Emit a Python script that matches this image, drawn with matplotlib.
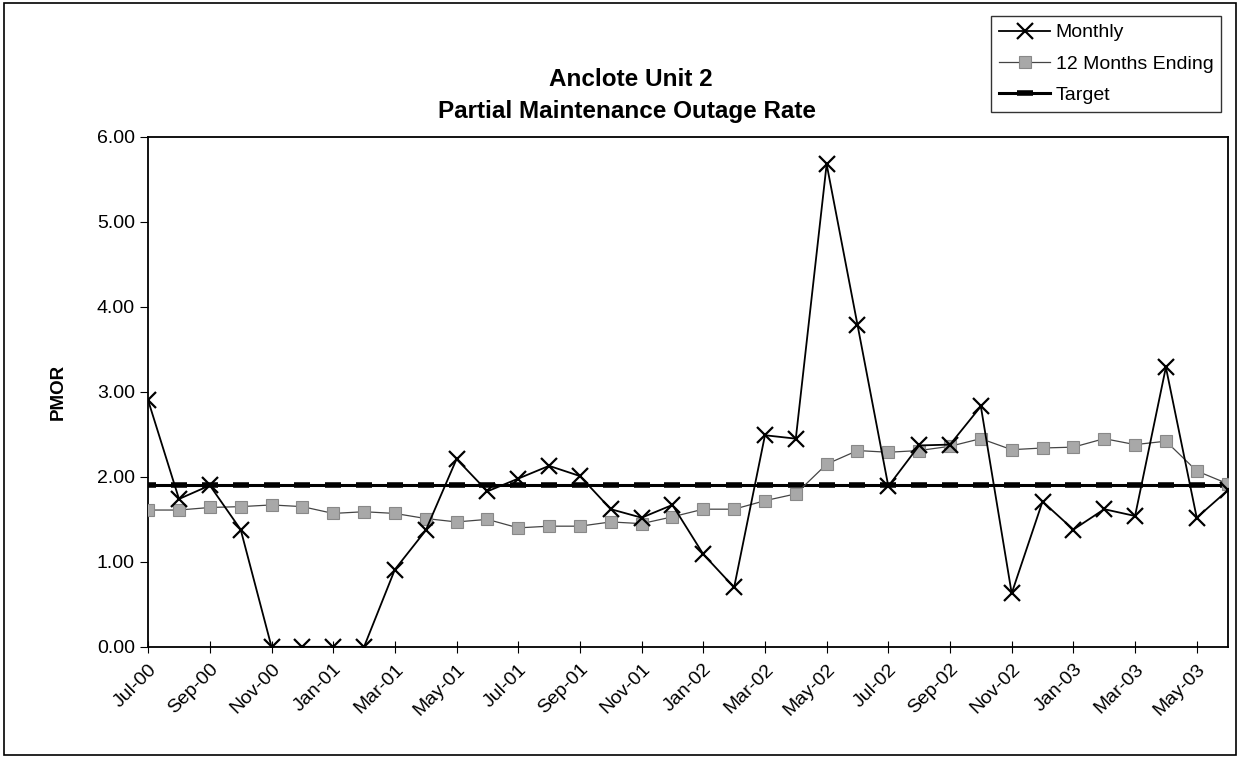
import numpy as np
import matplotlib.pyplot as plt
from matplotlib.patches import Rectangle
from matplotlib.ticker import FormatStrFormatter

plt.rcParams['font.family'] = ['Liberation Sans', 'DejaVu Sans']

# Data, Jul-00 .. Jun-03
months = ['Jul-00', 'Aug-00', 'Sep-00', 'Oct-00', 'Nov-00', 'Dec-00',
          'Jan-01', 'Feb-01', 'Mar-01', 'Apr-01', 'May-01', 'Jun-01',
          'Jul-01', 'Aug-01', 'Sep-01', 'Oct-01', 'Nov-01', 'Dec-01',
          'Jan-02', 'Feb-02', 'Mar-02', 'Apr-02', 'May-02', 'Jun-02',
          'Jul-02', 'Aug-02', 'Sep-02', 'Oct-02', 'Nov-02', 'Dec-02',
          'Jan-03', 'Feb-03', 'Mar-03', 'Apr-03', 'May-03', 'Jun-03']

monthly = [2.90, 1.74, 1.90, 1.38, 0.00, 0.00,
           0.00, 0.00, 0.91, 1.37, 2.21, 1.83,
           1.98, 2.13, 2.01, 1.62, 1.52, 1.67,
           1.09, 0.70, 2.49, 2.45, 5.68, 3.79,
           1.89, 2.37, 2.38, 2.83, 0.63, 1.71,
           1.38, 1.62, 1.54, 3.29, 1.52, 1.84]

twelve_month = [1.61, 1.61, 1.64, 1.65, 1.67, 1.65,
                1.57, 1.59, 1.57, 1.51, 1.47, 1.50,
                1.40, 1.42, 1.42, 1.47, 1.45, 1.53,
                1.62, 1.62, 1.72, 1.80, 2.15, 2.31,
                2.29, 2.31, 2.36, 2.45, 2.32, 2.34,
                2.35, 2.45, 2.38, 2.42, 2.07, 1.92]

target = [1.90] * len(months)

x = np.arange(len(months))

fig = plt.figure(figsize=(12.45, 7.61), dpi=100)
ax = fig.add_axes([0.119, 0.150, 0.867, 0.670])

ax.plot(x, target, color='black', lw=2.2, marker='_', ms=11, mew=4,
        label='Target', zorder=2)
ax.plot(x, twelve_month, color='#444444', lw=0.9, marker='s', ms=8,
        markerfacecolor='#a8a8a8', markeredgecolor='#888888', mew=0.8,
        label='12 Months Ending', zorder=3)
ax.plot(x, monthly, color='black', lw=1.3, marker='x', ms=11, mew=1.6,
        label='Monthly', zorder=4)

ax.set_xlim(0, len(months) - 1)
ax.set_ylim(0, 6)
ax.set_yticks(np.arange(0, 6.01, 1))
ax.yaxis.set_major_formatter(FormatStrFormatter('%.2f'))
ax.set_xticks(x[::2])
ax.set_xticklabels(months[::2], rotation=45, ha='right', rotation_mode='anchor')
ax.tick_params(axis='x', direction='inout', length=8, labelsize=14, pad=6)
ax.tick_params(axis='y', direction='out', length=6, labelsize=14)
for s in ax.spines.values():
    s.set_linewidth(1.3)

ax.set_ylabel('PMOR', fontsize=13.5, fontweight='bold', labelpad=22)

fig.text(0.507, 0.895, 'Anclote Unit 2', ha='center', va='center',
         fontsize=17.5, fontweight='bold')
fig.text(0.504, 0.853, 'Partial Maintenance Outage Rate', ha='center',
         va='center', fontsize=17.5, fontweight='bold')

handles, labels = ax.get_legend_handles_labels()
order = [2, 1, 0]
leg = fig.legend([handles[i] for i in order], [labels[i] for i in order],
                 loc='upper right', bbox_to_anchor=(0.984, 0.984),
                 fontsize=14, frameon=True, fancybox=False,
                 edgecolor='black', borderpad=0.4, handlelength=2.6,
                 handletextpad=0.3, labelspacing=0.7, borderaxespad=0.2)
leg.get_frame().set_linewidth(1.0)

fig.patches.append(Rectangle((0.003, 0.008), 0.990, 0.988, transform=fig.transFigure,
                             fill=False, edgecolor='black', lw=1.2))

fig.savefig('out.png', dpi=100)
